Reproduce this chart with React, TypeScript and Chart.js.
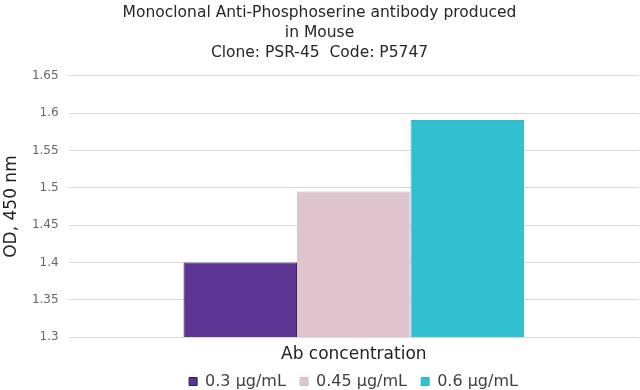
import React, { useEffect, useRef } from "react";
import { Chart, registerables } from "chart.js";

Chart.register(...registerables);

const categories = ["Ab concentration"];
const seriesLabels = ["0.3 µg/mL", "0.45 µg/mL", "0.6 µg/mL"];
const seriesValues = [1.4, 1.495, 1.591];
const seriesColors = ["#5B3591", "#DFC4CD", "#32BFCF"];
const seriesBorders = ["#2A1A5C", "#D8BCC6", "#2DB8C8"];
const titleLines = [
  "Monoclonal Anti-Phosphoserine antibody produced",
  "in Mouse",
  "Clone: PSR-45  Code: P5747",
];
const yMin = 1.3;
const yMax = 1.65;
const yStep = 0.05;

const legendShift = {
  id: "legendShift",
  afterLayout(chart: any) {
    const lg = chart.legend;
    if (lg) {
      lg.left += 34;
      lg.right += 34;
    }
  },
};

export default function App() {
  const ref = useRef<HTMLCanvasElement | null>(null);
  useEffect(() => {
    document.body.style.margin = "0";
    if (!ref.current) return;
    const chart = new Chart(ref.current, {
      type: "bar",
      data: {
        labels: categories,
        datasets: seriesLabels.map((label, i) => ({
          label,
          data: [seriesValues[i]],
          backgroundColor: seriesColors[i],
          borderColor: seriesBorders[i],
          borderWidth: 1,
          categoryPercentage: 0.597,
          barPercentage: 1.0,
        })),
      },
      plugins: [legendShift],
      options: {
        animation: false,
        responsive: false,
        maintainAspectRatio: false,
        layout: { padding: { top: 0, right: 1, bottom: -9.5, left: 0 } },
        plugins: {
          title: {
            display: true,
            text: titleLines,
            color: "#262626",
            font: { family: "DejaVu Sans", size: 15.5, weight: "normal", lineHeight: 1.29 },
            padding: { top: 3, bottom: 13 },
          },
          legend: {
            position: "bottom",
            labels: {
              color: "#404040",
              boxWidth: 8,
              boxHeight: 8,
              padding: 4,
              font: { family: "DejaVu Sans", size: 16 },
              generateLabels: (c: any) => {
                const items = Chart.defaults.plugins.legend.labels.generateLabels(c);
                return items.map((it: any, i: number) => ({
                  ...it,
                  text: i < items.length - 1 ? it.text + "  " : it.text,
                }));
              },
            },
          },
          tooltip: { enabled: false },
        },
        scales: {
          x: {
            grid: { display: false, drawTicks: false },
            border: { display: false },
            ticks: { display: false },
            title: {
              display: true,
              text: "Ab concentration",
              color: "#222222",
              font: { family: "DejaVu Sans", size: 17 },
              padding: { top: 7, bottom: 5 },
            },
          },
          y: {
            min: yMin,
            max: yMax,
            ticks: {
              stepSize: yStep,
              color: "#666666",
              font: { family: "DejaVu Sans", size: 12 },
              padding: 10,
              callback: (v: any) => String(Number(Number(v).toFixed(2))),
            },
            grid: { color: "#D9D9D9", drawTicks: false, lineWidth: 1 },
            border: { display: false },
            title: {
              display: true,
              text: "OD, 450 nm",
              color: "#222222",
              font: { family: "DejaVu Sans", size: 17 },
              padding: { top: 1.5, bottom: 0 },
            },
          },
        },
      },
    });
    return () => chart.destroy();
  }, []);
  return (
    <div style={{ width: 640, height: 390, background: "#fff" }}>
      <canvas ref={ref} width={640} height={390} />
    </div>
  );
}
